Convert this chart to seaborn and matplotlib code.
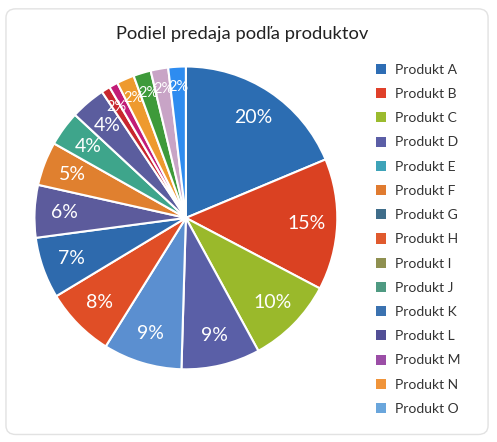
import matplotlib
matplotlib.use("Agg")
import matplotlib.pyplot as plt
from matplotlib.patches import Patch, FancyBboxPatch
import seaborn as sns

# Hodnoty a popisy tak, ako sú na grafe (koláč má viac výsekov než legenda)
slice_values = [20, 15, 10, 9, 9, 8, 7, 6, 5, 4, 4, 1, 1, 2, 2, 2, 2]
slice_labels = ["20%", "15%", "10%", "9%", "9%", "8%", "7%", "6%", "5%",
                "4%", "4%", "2%", "", "2%", "2%", "2%", "2%"]
slice_colors = ["#2c6db2", "#da4122", "#9ab92b", "#5a5fa7", "#5b8fd0",
                "#e04e26", "#2e6aad", "#5c5b9c", "#e0802f", "#3ea58b",
                "#5b5d9e", "#c8262e", "#c21c77", "#ee9a2e", "#3e9a3a",
                "#c8a4c6", "#2e8cf0"]

products = ["Produkt A", "Produkt B", "Produkt C", "Produkt D", "Produkt E",
            "Produkt F", "Produkt G", "Produkt H", "Produkt I", "Produkt J",
            "Produkt K", "Produkt L", "Produkt M", "Produkt N", "Produkt O"]
legend_colors = ["#2e6db4", "#e0402a", "#9bbb2e", "#5b5ea6", "#3ea3b8",
                 "#e07b30", "#3f6d8a", "#e05a2e", "#8f9050", "#4f9a82",
                 "#3b72b0", "#524f96", "#9b4ea6", "#f0943a", "#6aa6dc"]

sns.set_style("white")
plt.rcParams['font.family'] = ['Lato', 'DejaVu Sans']

fig = plt.figure(figsize=(4.97, 4.42), dpi=100)
fig.patch.set_facecolor("#ffffff")

# karta s jemným tieňom
fig.patches.append(FancyBboxPatch((0.016, 0.02), 0.966, 0.955,
                                  boxstyle="round,pad=0,rounding_size=0.02",
                                  transform=fig.transFigure, facecolor="#f3f3f3",
                                  edgecolor="none", zorder=-10))
fig.patches.append(FancyBboxPatch((0.012, 0.017), 0.97, 0.963,
                                  boxstyle="round,pad=0,rounding_size=0.02",
                                  transform=fig.transFigure, facecolor="#ffffff",
                                  edgecolor="#e2e2e2", lw=1.0, zorder=-9))

ax = fig.add_axes([0.066, 0.161, 0.616, 0.692])
ax.patch.set_alpha(0)
wedges, texts = ax.pie(slice_values, colors=slice_colors, labels=slice_labels,
                       startangle=90, counterclock=False, labeldistance=0.8,
                       wedgeprops=dict(edgecolor="white", linewidth=1.5),
                       textprops=dict(color="white", fontsize=14))
for t, v in zip(texts, slice_values):
    t.set_ha("center")
    t.set_va("center")
    if v <= 2:
        t.set_fontsize(10.5)
        t.set_position((t.get_position()[0] * 1.08, t.get_position()[1] * 1.08))
ax.set_xlim(-1.01, 1.01)
ax.set_ylim(-1.01, 1.01)
ax.set_aspect("equal")

fig.text(0.487, 0.922, "Podiel predaja podľa produktov", ha="center", va="center",
         fontsize=13.2, color="#222222")

handles = [Patch(facecolor=c, edgecolor="none") for c in legend_colors]
fig.legend(handles, products, loc="upper left", bbox_to_anchor=(0.731, 0.884),
           frameon=False, fontsize=10, handlelength=0.75, handleheight=0.75,
           handletextpad=0.6, labelspacing=0.88, labelcolor="#333333")

fig.savefig("out.png", dpi=100)
